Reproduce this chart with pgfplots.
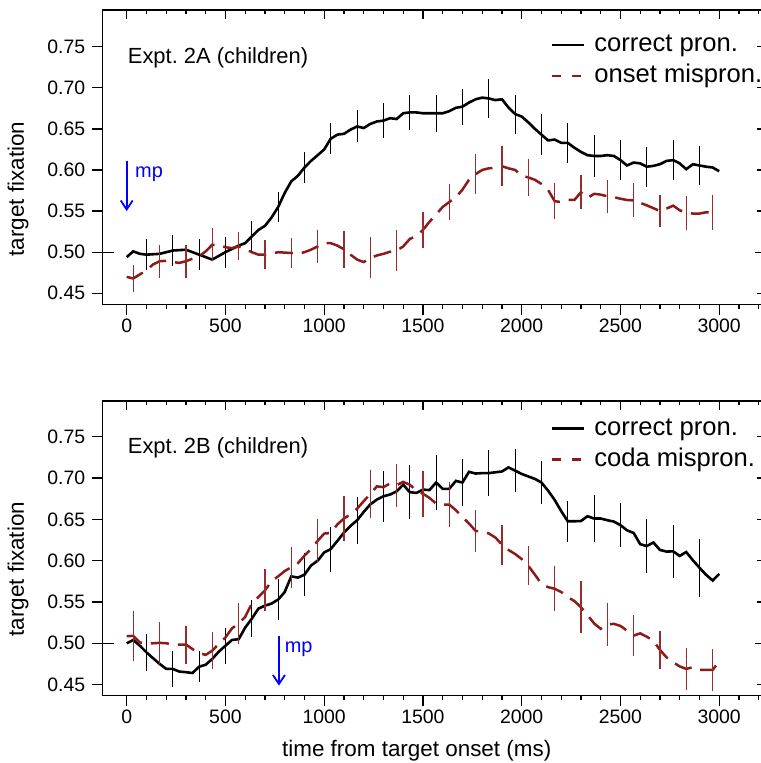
\documentclass[border=0pt]{standalone}
\usepackage{fontspec}
\setmainfont{Liberation Sans}
\usepackage{pgfplots}
\pgfplotsset{compat=1.18}
\usetikzlibrary{arrows.meta}
\frenchspacing
\definecolor{dred}{RGB}{140,26,26}
\definecolor{ered}{RGB}{150,45,45}
\definecolor{mpblue}{RGB}{0,0,255}
\newcommand\tickfont{\fontsize{19.5}{22}\selectfont}
\newcommand\labfont{\fontsize{22.5}{26}\selectfont}
\newcommand\legfont{\fontsize{25.7}{30}\selectfont}
\newcommand\panfont{\fontsize{22}{26}\selectfont}
\newcommand\mpfont{\fontsize{20}{24}\selectfont}
\pgfplotsset{
  panelbase/.style={
    scale only axis, width=663.3bp, height=294.3bp,
    xmin=-121.5, xmax=3237, anchor=north west, clip=false,
    xtick={0,500,1000,1500,2000,2500,3000},
    minor xtick={100,200,300,400,600,700,800,900,1100,1200,1300,1400,1600,1700,1800,1900,2100,2200,2300,2400,2600,2700,2800,2900,3100,3200},
    ytick={0.45,0.50,0.55,0.60,0.65,0.70,0.75},
    tick style={line width=1.3bp, black},
  },
  mainax/.style={panelbase,
    axis line style={line width=1.5bp},
    tick align=outside, xtick pos=left, ytick pos=left,
    major tick length=11bp, minor tick length=5bp,
    xticklabels={0,500,1000,1500,2000,2500,3000},
    yticklabels={0.45,0.50,0.55,0.60,0.65,0.70,0.75},
    tick label style={font=\tickfont},
    yticklabel style={xshift=-3bp},
    legend style={draw=none, fill=none, anchor=north west, inner sep=0pt, outer sep=0pt,
      column sep=9.4bp, row sep=6bp, font=\legfont,
      nodes={inner sep=0pt, text height=19bp, text depth=6bp}},
    legend cell align=left,
  },
  mirrorax/.style={panelbase,
    axis line style={draw=none},
    tick align=inside, xtick pos=right, ytick pos=right,
    major tick length=9bp, minor tick length=4bp,
    xticklabels={}, yticklabels={},
  },
  halfax/.style={panelbase,
    axis line style={draw=none},
    tick align=inside, ytick pos=both, xtick=\empty, minor xtick={},
    ytick={0.5}, major tick length=11bp,
    yticklabels={},
  },
  blk/.style={black, line width=2.6bp,
    error bars/y dir=both, error bars/y explicit, error bars/error mark=none,
    error bars/error bar style={solid, line width=1.3bp, black},
    legend image code/.code={\draw[black, line width=2.6bp] (0bp,0bp) -- (31.6bp,0bp);}},
  red/.style={dred, line width=2.5bp, dash pattern=on 18bp off 9bp,
    error bars/y dir=both, error bars/y explicit, error bars/error mark=none,
    error bars/error bar style={solid, line width=1.3bp, ered},
    legend image code/.code={\draw[dred, line width=2.5bp, dash pattern=on 9.5bp off 10.5bp] (0bp,0bp) -- (31.6bp,0bp);}},
}
\begin{document}
\begin{tikzpicture}
% ---------------- top panel ----------------
\begin{axis}[mainax, at={(102.7bp,-10bp)}, ymin=0.4366, ymax=0.7946,
  ylabel={target fixation}, ylabel style={font=\labfont, at={(axis description cs:-0.1187,0.3918)}, anchor=base, rotate=0},
  legend style={at={(axis description cs:0.6754,0.9229)}}]
\addplot[blk] coordinates {
(0,0.494) (33,0.501) (67,0.498) (100,0.497) +- (0,0.0187) (167,0.498) (233,0.502) +- (0,0.019)
(300,0.503) (367,0.497) +- (0,0.019) (433,0.491) (500,0.500) +- (0,0.0187) (567,0.508) (600,0.511)
(633,0.519) +- (0,0.019) (667,0.527) (700,0.532) (733,0.542) (767,0.555) +- (0,0.0185) (800,0.572)
(833,0.586) (867,0.593) (900,0.603) +- (0,0.0185) (933,0.611) (967,0.618) (1000,0.625)
(1033,0.638) +- (0,0.0187) (1067,0.643) (1100,0.644) (1133,0.649) (1167,0.653) +- (0,0.0195)
(1200,0.651) (1233,0.656) (1267,0.659) (1300,0.660) +- (0,0.0215) (1333,0.663) (1367,0.662)
(1400,0.669) (1433,0.670) +- (0,0.0217) (1467,0.670) (1500,0.669) (1533,0.669) (1567,0.669) +- (0,0.0223)
(1600,0.669) (1633,0.6715) (1667,0.6757) (1700,0.677) +- (0,0.022) (1733,0.682) (1767,0.686)
(1800,0.688) (1833,0.687) +- (0,0.0233) (1867,0.685) (1900,0.686) (1933,0.676) (1967,0.668) +- (0,0.0237)
(2000,0.665) (2033,0.658) (2067,0.650) (2100,0.643) +- (0,0.0247) (2133,0.636) (2167,0.637)
(2200,0.633) (2233,0.633) +- (0,0.0243) (2267,0.627) (2300,0.622) (2333,0.618) (2367,0.617) +- (0,0.0257)
(2400,0.617) (2433,0.618) (2467,0.617) (2500,0.612) +- (0,0.0247) (2533,0.6055) (2567,0.609)
(2600,0.608) (2633,0.604) +- (0,0.0243) (2667,0.605) (2700,0.607) (2733,0.611) (2767,0.612) +- (0,0.0243)
(2800,0.608) (2833,0.601) (2867,0.607) (2900,0.6055) +- (0,0.0237) (2933,0.604) (2967,0.603) (3000,0.5985)
};
\addlegendentry{correct pron.}
\addplot[red] coordinates {
(0,0.470) (33,0.468) +- (0,0.0162) (67,0.473) (100,0.478) (133,0.485) (167,0.489) +- (0,0.0199)
(200,0.4895) (233,0.488) (267,0.487) (300,0.489) +- (0,0.0203) (333,0.492) (367,0.495) (400,0.501)
(433,0.509) +- (0,0.02) (467,0.509) (500,0.506) (533,0.505) (567,0.507) +- (0,0.017) (600,0.504)
(633,0.500) (667,0.497) (700,0.497) +- (0,0.018) (733,0.498) (767,0.500) (800,0.4995)
(833,0.499) +- (0,0.018) (867,0.498) (900,0.500) (933,0.503) (967,0.507) +- (0,0.02) (1000,0.511)
(1033,0.511) (1067,0.508) (1100,0.5035) +- (0,0.0227) (1133,0.497) (1167,0.491) (1200,0.488)
(1233,0.493) +- (0,0.025) (1267,0.496) (1300,0.498) (1333,0.5005) (1367,0.502) +- (0,0.025)
(1400,0.507) (1433,0.516) (1467,0.520) (1500,0.527) +- (0,0.022) (1533,0.537) (1567,0.546)
(1600,0.555) (1633,0.561) +- (0,0.0217) (1667,0.567) (1700,0.576) (1733,0.588) (1767,0.595) +- (0,0.0243)
(1800,0.600) (1833,0.602) (1867,0.6027) (1900,0.6046) +- (0,0.0245) (1933,0.602) (1967,0.600)
(2000,0.593) (2033,0.591) +- (0,0.0227) (2067,0.588) (2100,0.583) (2133,0.576) (2167,0.562) +- (0,0.0217)
(2200,0.561) (2233,0.5635) (2267,0.5635) (2300,0.573) +- (0,0.0203) (2333,0.566) (2367,0.571)
(2400,0.570) (2433,0.568) +- (0,0.0203) (2467,0.567) (2500,0.565) (2533,0.5635) (2567,0.563) +- (0,0.0207)
(2600,0.560) (2633,0.557) (2667,0.5535) (2700,0.550) +- (0,0.0197) (2733,0.553) (2767,0.5566)
(2800,0.551) (2833,0.548) +- (0,0.0205) (2867,0.547) (2900,0.547) (2933,0.5485) (2967,0.548) +- (0,0.0213)
(2980,0.548)
};
\addlegendentry{onset mispron.}
\node[anchor=base west, font=\panfont, inner sep=0pt] at (rel axis cs:0.0377,0.819) {Expt. 2A (children)};
\draw[mpblue, line width=1.8bp, -{Straight Barb[length=9bp,width=12bp]}] (axis cs:0,0.6107) -- (axis cs:0,0.55);
\node[anchor=base west, font=\mpfont, text=mpblue, inner sep=0pt] at (axis cs:42,0.5905) {mp};
\end{axis}
\begin{axis}[mirrorax, at={(102.7bp,-10bp)}, ymin=0.4366, ymax=0.7946]
\end{axis}
\begin{axis}[halfax, at={(102.7bp,-10bp)}, ymin=0.4366, ymax=0.7946]
\end{axis}
% ---------------- bottom panel ----------------
\begin{axis}[mainax, at={(102.7bp,-401bp)}, ymin=0.437, ymax=0.7933,
  ylabel={target fixation}, ylabel style={font=\labfont, at={(axis description cs:-0.1187,0.4286)}, anchor=base, rotate=0},
  xlabel={time from target onset (ms)}, xlabel style={font=\labfont, at={(axis description cs:0.4734,-0.2065)}, anchor=base},
  legend style={at={(axis description cs:0.6754,0.949)}}]
\addplot[blk] coordinates {
(0,0.500) (33,0.504) (67,0.497) (100,0.489) +- (0,0.0227) (133,0.482) (167,0.475) (200,0.469)
(233,0.469) +- (0,0.0218) (267,0.4657) (300,0.465) (333,0.464) (367,0.4717) +- (0,0.0188) (400,0.474)
(433,0.481) (467,0.490) (500,0.497) +- (0,0.0216) (533,0.504) (567,0.505) (600,0.519)
(633,0.5296) +- (0,0.0225) (667,0.542) (700,0.5455) (733,0.548) (767,0.553) +- (0,0.0249) (800,0.562)
(833,0.581) (867,0.5795) (900,0.583) +- (0,0.0257) (933,0.594) (967,0.600) (1000,0.610)
(1033,0.614) +- (0,0.0273) (1067,0.624) (1100,0.634) (1133,0.642) (1167,0.649) +- (0,0.0283)
(1200,0.659) (1233,0.668) (1267,0.674) (1300,0.678) +- (0,0.031) (1333,0.680) (1367,0.684)
(1400,0.692) (1433,0.683) +- (0,0.033) (1467,0.682) (1500,0.686) (1533,0.6855) (1567,0.6946) +- (0,0.033)
(1600,0.687) (1633,0.687) (1667,0.6966) (1700,0.6946) +- (0,0.029) (1733,0.7075) (1767,0.7055)
(1800,0.706) (1833,0.706) +- (0,0.028) (1867,0.707) (1900,0.708) (1933,0.7129) (1967,0.709) +- (0,0.026)
(2000,0.705) (2033,0.702) (2067,0.699) (2100,0.6946) +- (0,0.026) (2133,0.685) (2167,0.6735)
(2200,0.660) (2233,0.6477) +- (0,0.025) (2267,0.6477) (2300,0.648) (2333,0.6538) (2367,0.651) +- (0,0.028)
(2400,0.651) (2433,0.649) (2467,0.6473) (2500,0.643) +- (0,0.027) (2533,0.6368) (2567,0.6335)
(2600,0.620) (2633,0.6177) +- (0,0.033) (2667,0.622) (2700,0.613) (2733,0.611) (2767,0.6113) +- (0,0.032)
(2800,0.6057) (2833,0.6105) (2867,0.6004) (2900,0.5915) +- (0,0.035) (2933,0.583) (2967,0.576) (3000,0.584)
};
\addlegendentry{correct pron.}
\addplot[red] coordinates {
(0,0.5085) (33,0.509) +- (0,0.030) (67,0.501) (100,0.500) (133,0.500) (167,0.5005) +- (0,0.025)
(200,0.500) (233,0.4985) (267,0.4985) (300,0.4985) +- (0,0.023) (333,0.493) (367,0.488) (400,0.486)
(433,0.491) +- (0,0.0227) (467,0.4995) (500,0.507) (533,0.518) (567,0.524) +- (0,0.025) (600,0.532)
(633,0.548) (667,0.556) (700,0.564) +- (0,0.0255) (733,0.575) (767,0.581) (800,0.5874)
(833,0.592) +- (0,0.0247) (867,0.597) (900,0.606) (933,0.614) (967,0.624) +- (0,0.026) (1000,0.6328)
(1033,0.6335) (1067,0.644) (1100,0.651) +- (0,0.0277) (1133,0.656) (1167,0.663) (1200,0.672)
(1233,0.6805) +- (0,0.029) (1267,0.690) (1300,0.689) (1333,0.6934) (1367,0.6914) +- (0,0.026)
(1400,0.6954) (1433,0.692) (1467,0.685) (1500,0.681) +- (0,0.0277) (1533,0.676) (1567,0.669)
(1600,0.668) (1633,0.668) +- (0,0.0277) (1667,0.661) (1700,0.653) (1733,0.645) (1767,0.636) +- (0,0.025)
(1800,0.635) (1833,0.633) (1867,0.628) (1900,0.6194) +- (0,0.0243) (1933,0.613) (1967,0.608)
(2000,0.602) (2033,0.594) +- (0,0.0237) (2067,0.583) (2100,0.572) (2133,0.568) (2167,0.566) +- (0,0.027)
(2200,0.562) (2233,0.556) (2267,0.551) (2300,0.5437) +- (0,0.0318) (2333,0.534) (2367,0.524)
(2400,0.5175) (2433,0.5227) +- (0,0.026) (2467,0.5235) (2500,0.521) (2533,0.5154) (2567,0.5093) +- (0,0.025)
(2600,0.512) (2633,0.508) (2667,0.503) (2700,0.492) +- (0,0.023) (2733,0.483) (2767,0.477)
(2800,0.472) (2833,0.469) +- (0,0.0253) (2867,0.471) (2900,0.4678) (2933,0.4678) (2967,0.4678) +- (0,0.0253)
(3000,0.478)
};
\addlegendentry{coda mispron.}
\node[anchor=base west, font=\panfont, inner sep=0pt] at (rel axis cs:0.0377,0.822) {Expt. 2B (children)};
\draw[mpblue, line width=1.8bp, -{Straight Barb[length=9bp,width=12bp]}] (axis cs:771,0.509) -- (axis cs:771,0.4487);
\node[anchor=base west, font=\mpfont, text=mpblue, inner sep=0pt] at (axis cs:800,0.489) {mp};
\end{axis}
\begin{axis}[mirrorax, at={(102.7bp,-401bp)}, ymin=0.437, ymax=0.7933]
\end{axis}
\begin{axis}[halfax, at={(102.7bp,-401bp)}, ymin=0.437, ymax=0.7933]
\end{axis}
\pgfresetboundingbox
\path[use as bounding box] (0bp,0bp) rectangle (761bp,-763bp);
\end{tikzpicture}
\end{document}
